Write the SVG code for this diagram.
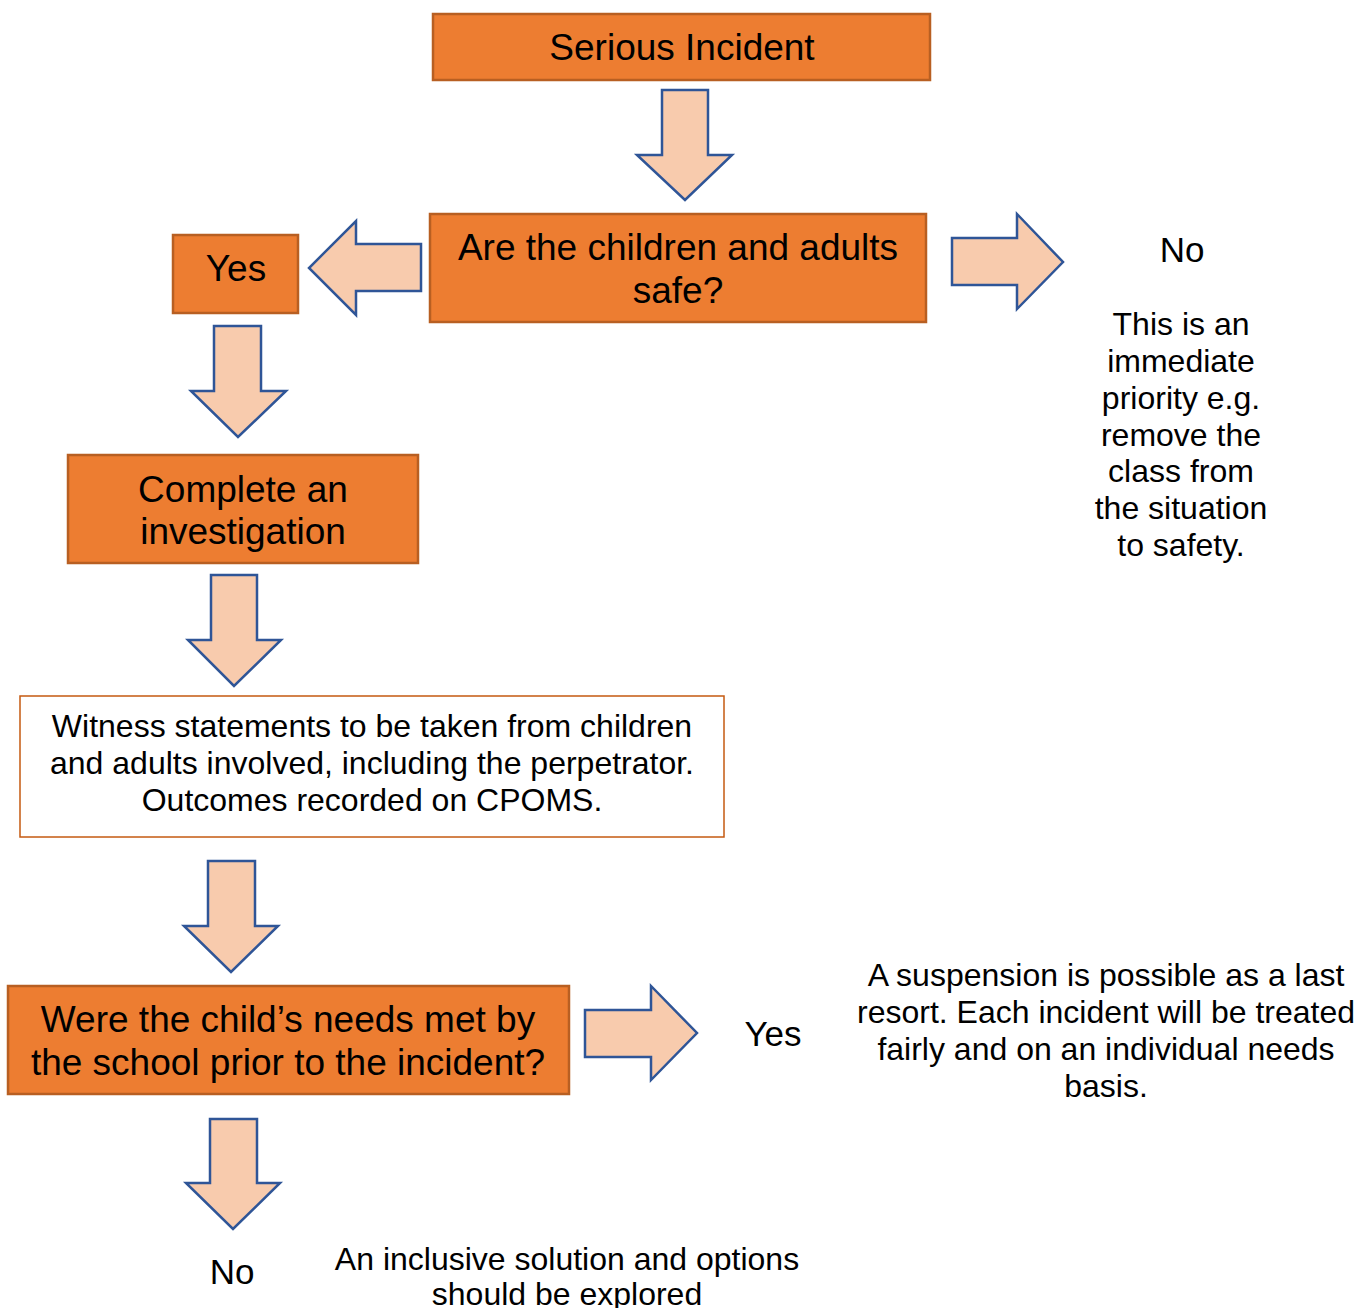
<svg xmlns="http://www.w3.org/2000/svg" width="1360" height="1308" viewBox="0 0 1360 1308">
<style>
.box{fill:#ED7D31;stroke:#B85F22;stroke-width:2.5}
.wbox{fill:#FFFFFF;stroke:#C55A11;stroke-width:1.5}
.arr{fill:#F8CBAD;stroke:#2F5597;stroke-width:2.5;stroke-linejoin:miter}
text{font-family:"Liberation Sans",Arial,sans-serif;fill:#000;text-anchor:middle}
.big{font-size:37px}
.sm{font-size:32px}
.lbl{font-size:35px}
</style>
<rect width="1360" height="1308" fill="#FFFFFF"/>
<g id="connectors">
<polygon class="arr" points="662,90 708,90 708,155 732,155 685,200 637,155 662,155"/>
<polygon class="arr" points="421,244 421,291 356,291 356,315 309,268 356,221 356,244"/>
<polygon class="arr" points="952,238 1017,238 1017,214 1063,262 1017,309 1017,285 952,285"/>
<polygon class="arr" points="214,326 261,326 261,391 286,391 238,437 191,391 214,391"/>
<polygon class="arr" points="211,575 257,575 257,640 281,640 234,686 188,640 211,640"/>
<polygon class="arr" points="208,861 255,861 255,926 278,926 231,972 184,926 208,926"/>
<polygon class="arr" points="585,1010 651,1010 651,986 697,1033 651,1080 651,1057 585,1057"/>
<polygon class="arr" points="210,1119 257,1119 257,1183 280,1183 233,1229 186,1183 210,1183"/>
</g>
<g id="serious">
<rect class="box" x="433" y="14" width="497" height="66"/>
<text class="big" x="682" y="60">Serious Incident</text>
</g>
<g id="safe">
<rect class="box" x="430" y="214" width="496" height="108"/>
<text class="big" x="678" y="260">Are the children and adults</text>
<text class="big" x="678" y="303">safe?</text>
</g>
<g id="yes1">
<rect class="box" x="173" y="235" width="125" height="78"/>
<text class="big" x="236" y="281">Yes</text>
</g>
<g id="no1">
<text class="lbl" x="1182" y="262">No</text>
<text class="sm" x="1181" y="335">This is an</text>
<text class="sm" x="1181" y="372">immediate</text>
<text class="sm" x="1181" y="409">priority e.g.</text>
<text class="sm" x="1181" y="446">remove the</text>
<text class="sm" x="1181" y="482">class from</text>
<text class="sm" x="1181" y="519">the situation</text>
<text class="sm" x="1181" y="556">to safety.</text>
</g>
<g id="investigate">
<rect class="box" x="68" y="455" width="350" height="108"/>
<text class="big" x="243" y="502">Complete an</text>
<text class="big" x="243" y="544">investigation</text>
</g>
<g id="witness">
<rect class="wbox" x="20" y="696" width="704" height="141"/>
<text class="sm" x="372" y="737">Witness statements to be taken from children</text>
<text class="sm" x="372" y="774">and adults involved, including the perpetrator.</text>
<text class="sm" x="372" y="811">Outcomes recorded on CPOMS.</text>
</g>
<g id="needs">
<rect class="box" x="8" y="986" width="561" height="108"/>
<text class="big" x="288" y="1032">Were the child’s needs met by</text>
<text class="big" x="288" y="1075">the school prior to the incident?</text>
</g>
<g id="yes2">
<text class="lbl" x="773" y="1046">Yes</text>
<text class="sm" x="1106" y="986">A suspension is possible as a last</text>
<text class="sm" x="1106" y="1023">resort. Each incident will be treated</text>
<text class="sm" x="1106" y="1060">fairly and on an individual needs</text>
<text class="sm" x="1106" y="1097">basis.</text>
</g>
<g id="no2">
<text class="lbl" x="232" y="1284">No</text>
<text class="sm" x="567" y="1270">An inclusive solution and options</text>
<text class="sm" x="567" y="1305">should be explored</text>
</g>
</svg>
